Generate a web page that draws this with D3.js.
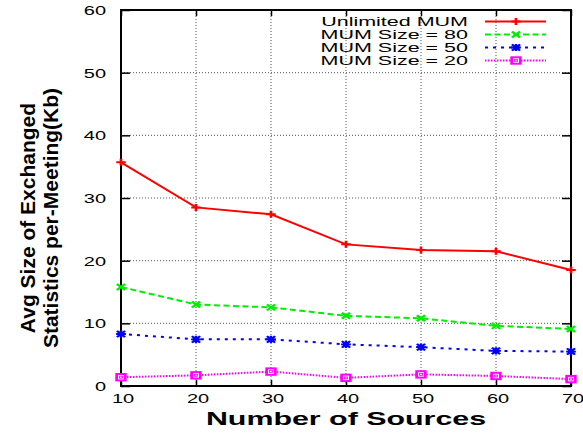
<!DOCTYPE html>
<html><head><meta charset="utf-8">
<script src="https://cdn.jsdelivr.net/npm/d3@7"></script>
<style>body{margin:0;background:#fff}svg{display:block}text{font-family:"Liberation Sans",Arial,sans-serif}</style>
</head><body>
<script>
const sources = [10, 20, 30, 40, 50, 60, 70];
const unlimited = [35.7, 28.5, 27.4, 22.6, 21.7, 21.5, 18.5];
const mum80 = [15.8, 13.0, 12.55, 11.2, 10.8, 9.6, 9.1];
const mum50 = [8.3, 7.45, 7.45, 6.65, 6.2, 5.6, 5.5];
const mum20 = [1.4, 1.7, 2.3, 1.3, 1.85, 1.6, 1.1];
const yTicks = [0, 10, 20, 30, 40, 50, 60];
const seriesNames = ["Unlimited MUM", "MUM Size = 80", "MUM Size = 50", "MUM Size = 20"];

const W = 583, H = 433;
const SX = 1.6; // horizontal stretch of the original picture
const m = {left: 121, right: 571, top: 10, bottom: 386};
const svg = d3.select("body").append("svg").attr("width", W).attr("height", H);
const x = d3.scaleLinear().domain([10, 70]).range([m.left, m.right]);
const y = d3.scaleLinear().domain([0, 60]).range([m.bottom, m.top]);

// grid
const grid = svg.append("g").attr("stroke", "#555").attr("stroke-width", 1).attr("stroke-dasharray", "1,2");
sources.slice(1, -1).forEach(v => grid.append("line").attr("x1", x(v)).attr("x2", x(v)).attr("y1", m.top).attr("y2", m.bottom));
yTicks.slice(1, -1).forEach(v => grid.append("line").attr("x1", m.left).attr("x2", m.right).attr("y1", y(v)).attr("y2", y(v)));

// axes
const fs = 12.5;
const ax = svg.append("g").attr("transform", `translate(0,${m.bottom})`)
  .call(d3.axisBottom(x).tickValues(sources).tickFormat(d3.format("d")).tickSizeInner(-6).tickSizeOuter(0).tickPadding(0));
ax.selectAll("text").attr("font-size", fs).attr("fill", "#000").attr("y", 0).attr("dy", 0)
  .attr("transform", `translate(1.5,17) scale(${SX},1)`);
const ay = svg.append("g").attr("transform", `translate(${m.left},0)`)
  .call(d3.axisLeft(y).tickValues(yTicks).tickSizeInner(-9).tickSizeOuter(0).tickPadding(0));
ay.selectAll("text").attr("font-size", fs).attr("fill", "#000").attr("x", 0).attr("dy", 0)
  .attr("transform", `translate(-15,4.5) scale(${SX},1)`);
const at = svg.append("g").attr("transform", `translate(0,${m.top})`)
  .call(d3.axisTop(x).tickValues(sources).tickFormat("").tickSizeInner(-6).tickSizeOuter(0));
const ar = svg.append("g").attr("transform", `translate(${m.right},0)`)
  .call(d3.axisRight(y).tickValues(yTicks).tickFormat("").tickSizeInner(-9).tickSizeOuter(0));
[ax, ay, at, ar].forEach(g => { g.select(".domain").remove(); g.selectAll("line").attr("stroke", "#000").attr("stroke-width", 1.5); });
svg.append("rect").attr("x", m.left).attr("y", m.top).attr("width", m.right - m.left).attr("height", m.bottom - m.top)
  .attr("fill", "none").attr("stroke", "#000").attr("stroke-width", 2);

// markers
function marker(g, type, color) {
  const s = g.append("g").attr("transform", `scale(${SX * 0.85},1)`);
  if (type === "plus") {
    s.append("path").attr("d", "M-3.5,0H3.5M0,-3.5V3.5").attr("stroke", color).attr("stroke-width", 2).attr("fill", "none");
  } else if (type === "cross") {
    s.append("path").attr("d", "M-3,-3L3,3M-3,3L3,-3").attr("stroke", color).attr("stroke-width", 2).attr("fill", "none");
  } else if (type === "star") {
    s.append("path").attr("d", "M-3,-3.2L3,3.2M-3,3.2L3,-3.2M-3.6,0H3.6M0,-3.6V3.6").attr("stroke", color).attr("stroke-width", 1.8).attr("fill", "none");
  } else {
    s.append("rect").attr("x", -3.2).attr("y", -3.2).attr("width", 6.4).attr("height", 6.4).attr("stroke", color).attr("stroke-width", 2).attr("fill", "#fff");
    s.append("rect").attr("x", -1).attr("y", -1).attr("width", 2).attr("height", 2).attr("stroke", color).attr("stroke-width", 0.8).attr("fill", "none");
  }
}

const series = [
  {name: seriesNames[0], vals: unlimited, color: "#ff0000", dash: null, mk: "plus"},
  {name: seriesNames[1], vals: mum80, color: "#00ee00", dash: "6,3.5", mk: "cross"},
  {name: seriesNames[2], vals: mum50, color: "#0000ff", dash: "3,5", mk: "star"},
  {name: seriesNames[3], vals: mum20, color: "#ff00ff", dash: "1.5,1.5", mk: "square"}
];
const line = d3.line().x((d, i) => x(sources[i])).y(d => y(d));
series.forEach(s => {
  svg.append("path").datum(s.vals).attr("d", line).attr("fill", "none").attr("stroke", s.color)
    .attr("stroke-width", 2).attr("stroke-dasharray", s.dash);
  s.vals.forEach((v, i) => marker(svg.append("g").attr("transform", `translate(${x(sources[i])},${y(v)})`), s.mk, s.color));
});

// legend
const legY = [21.5, 34.5, 47.5, 60.5];
series.forEach((s, i) => {
  const ly = legY[i];
  svg.append("text").attr("font-size", 12.5).attr("text-anchor", "end")
    .attr("transform", `translate(468,${ly + 4.6}) scale(1.72,1.08)`).text(s.name);
  svg.append("line").attr("x1", 485).attr("x2", 546).attr("y1", ly).attr("y2", ly)
    .attr("stroke", s.color).attr("stroke-width", 2).attr("stroke-dasharray", s.dash);
  marker(svg.append("g").attr("transform", `translate(516,${ly})`), s.mk, s.color);
});

// titles
svg.append("text").attr("font-size", 19).attr("font-weight", "bold").attr("text-anchor", "middle")
  .attr("transform", `translate(346,425) scale(${SX},1)`).text("Number of Sources");
svg.append("text").attr("font-size", 21).attr("font-weight", "bold").attr("text-anchor", "middle")
  .attr("transform", "translate(35,218) rotate(-90)").text("Avg Size of Exchanged");
svg.append("text").attr("font-size", 21).attr("font-weight", "bold").attr("text-anchor", "middle")
  .attr("transform", "translate(58,218) rotate(-90)").text("Statistics per-Meeting(Kb)");
</script>
</body></html>
